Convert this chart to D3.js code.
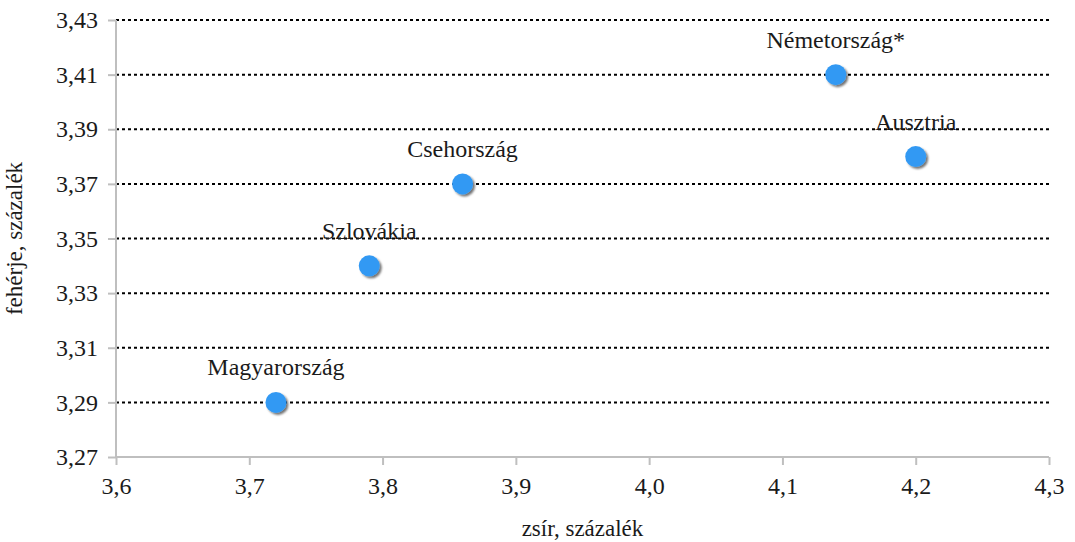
<!DOCTYPE html>
<html><head><meta charset="utf-8">
<script src="https://cdn.jsdelivr.net/npm/d3@7"></script>
<style>body{margin:0;background:#fff}svg{display:block}</style>
</head><body>
<script>
const countries = ["Magyarország","Szlovákia","Csehország","Németország*","Ausztria"];
const fat = [3.72,3.79,3.86,4.14,4.20];
const protein = [3.29,3.34,3.37,3.41,3.38];
const xTicks = [3.6,3.7,3.8,3.9,4.0,4.1,4.2,4.3];
const yTicks = [3.27,3.29,3.31,3.33,3.35,3.37,3.39,3.41,3.43];
const xTitle = "zsír, százalék";
const yTitle = "fehérje, százalék";

const FONT = "'Liberation Serif', 'Times New Roman', 'DejaVu Serif', serif";
const W=1075,H=542;
const svg=d3.select("body").append("svg").attr("width",W).attr("height",H);
const x=d3.scaleLinear().domain([3.6,4.3]).range([116,1049]);
const y=d3.scaleLinear().domain([3.27,3.43]).range([457,20]);
const fmtX=d=>d3.format(".1f")(d).replace(".",",");
const fmtY=d=>d3.format(".2f")(d).replace(".",",");

const defs=svg.append("defs");
const f=defs.append("filter").attr("id","sh").attr("x","-50%").attr("y","-50%").attr("width","200%").attr("height","200%");
f.append("feDropShadow").attr("dx",2).attr("dy",2).attr("stdDeviation",1.2).attr("flood-color","#000").attr("flood-opacity",0.55);

svg.append("g").selectAll("line").data(yTicks.slice(1)).join("line")
  .attr("x1",x(3.6)).attr("x2",x(4.3)).attr("y1",d=>y(d)).attr("y2",d=>y(d))
  .attr("stroke","#000").attr("stroke-width",2).attr("stroke-dasharray","3,3");

const yAxis=svg.append("g").attr("transform",`translate(${x(3.6)},0)`)
  .call(d3.axisLeft(y).tickValues(yTicks).tickFormat(fmtY).tickSize(8).tickPadding(10));
const xAxis=svg.append("g").attr("transform",`translate(0,${y(3.27)})`)
  .call(d3.axisBottom(x).tickValues(xTicks).tickFormat(fmtX).tickSize(8).tickPadding(12));
[yAxis,xAxis].forEach(a=>{
  a.attr("font-family",null).attr("font-size",null);
  a.selectAll("path,line").attr("stroke","#bfbfbf").attr("stroke-width",2);
  a.select("path").attr("d",a===yAxis?`M0,${y(3.43)}V${y(3.27)}`:`M${x(3.6)},0H${x(4.3)}`);
  a.selectAll("text").style("font-family",FONT).style("font-size","24px").attr("fill","#1a1a1a");
});

const pts=countries.map((c,i)=>({c,x:fat[i],y:protein[i]}));
svg.append("g").selectAll("circle").data(pts).join("circle")
  .attr("cx",d=>x(d.x)).attr("cy",d=>y(d.y)).attr("r",10.5)
  .attr("fill","#3399f3").attr("filter","url(#sh)");
svg.append("g").selectAll("text").data(pts).join("text")
  .attr("x",d=>x(d.x)).attr("y",d=>y(d.y)-27).attr("text-anchor","middle")
  .style("font-family",FONT).style("font-size","24px").attr("fill","#1a1a1a").text(d=>d.c);

svg.append("text").attr("x",(x(3.6)+x(4.3))/2).attr("y",536).attr("text-anchor","middle")
  .style("font-family",FONT).style("font-size","23px").attr("fill","#1a1a1a").text(xTitle);
svg.append("text").attr("transform",`translate(22,${(y(3.27)+y(3.43))/2}) rotate(-90)`).attr("text-anchor","middle")
  .style("font-family",FONT).style("font-size","23px").attr("fill","#1a1a1a").text(yTitle);
</script>
</body></html>
